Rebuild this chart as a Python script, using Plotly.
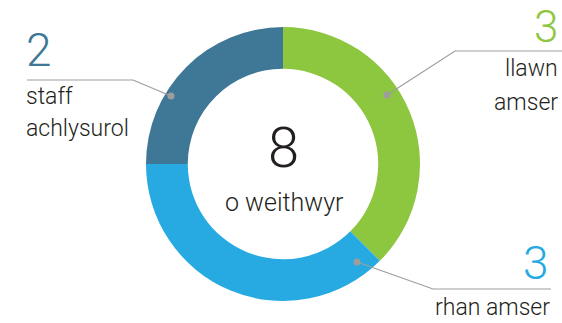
import plotly.graph_objects as go

# Workforce breakdown
categories = ["llawn amser", "rhan amser", "staff achlysurol"]
label_lines = [["llawn", "amser"], ["rhan amser"], ["staff", "achlysurol"]]
counts = [3, 3, 2]
colors = ["#8DC63F", "#27AAE1", "#3F7896"]
center_value = sum(counts)
center_label = "o weithwyr"

W, H = 562, 323
CX, CY, R = 283, 164, 137
FONT = "Roboto"
TEXT = "#231F20"


def px(x):
    return x / W


def py(y):
    return 1 - y / H


fig = go.Figure()
fig.add_trace(go.Pie(
    labels=categories,
    values=counts,
    marker=dict(colors=colors, line=dict(width=0)),
    hole=0.695,
    sort=False,
    direction="clockwise",
    rotation=0,
    textinfo="none",
    hoverinfo="label+value",
    showlegend=False,
    domain=dict(x=[px(CX - R), px(CX + R)], y=[py(CY + R), py(CY - R)]),
))

# leader lines: dot on the ring -> elbow -> horizontal run under the label
leaders = [
    dict(dot=(387, 95), elbow=(455, 51), end=(562, 51)),
    dict(dot=(357, 262), elbow=(433, 289), end=(551, 289)),
    dict(dot=(171, 96), elbow=(133, 80), end=(27, 80)),
]
shapes = []
for ld in leaders:
    (x0, y0), (x1, y1), (x2, y2) = ld["dot"], ld["elbow"], ld["end"]
    shapes.append(dict(
        type="path", xref="paper", yref="paper",
        path=f"M {px(x0)} {py(y0)} L {px(x1)} {py(y1)} L {px(x2)} {py(y2)}",
        line=dict(color="#9D9D9D", width=1.2),
    ))
    shapes.append(dict(
        type="circle", xref="paper", yref="paper",
        x0=px(x0 - 3.5), x1=px(x0 + 3.5), y0=py(y0 + 3.5), y1=py(y0 - 3.5),
        fillcolor="#9D9D9D", line=dict(width=0),
    ))

annotations = []


def add_text(text, x, y, size, color, xanchor, yanchor="middle"):
    annotations.append(dict(
        text=text, x=px(x), y=py(y), xref="paper", yref="paper",
        xanchor=xanchor, yanchor=yanchor, showarrow=False, borderpad=0,
        font=dict(family=FONT, size=size, color=color, weight=300),
    ))


# green: llawn amser (right, top)
add_text(str(counts[0]), 559, 27, 44, colors[0], "right")
add_text(label_lines[0][0], 559, 68, 23, TEXT, "right")
add_text(label_lines[0][1], 559, 102, 23, TEXT, "right")
# blue: rhan amser (right, bottom)
add_text(str(counts[1]), 550, 263, 46, colors[1], "right")
add_text(label_lines[1][0], 551, 307, 23, TEXT, "right")
# dark: staff achlysurol (left, top)
add_text(str(counts[2]), 25, 50, 46, colors[2], "left")
add_text(label_lines[2][0], 25, 96, 23, TEXT, "left")
add_text(label_lines[2][1], 25, 129, 23, TEXT, "left")
# centre total
add_text(str(center_value), 283, 148, 56, TEXT, "center")
add_text(center_label, 284, 202, 25, TEXT, "center")

fig.update_layout(
    width=W, height=H,
    margin=dict(l=0, r=0, t=0, b=0),
    paper_bgcolor="white", plot_bgcolor="white",
    shapes=shapes, annotations=annotations,
)

fig.write_html("out.html")
